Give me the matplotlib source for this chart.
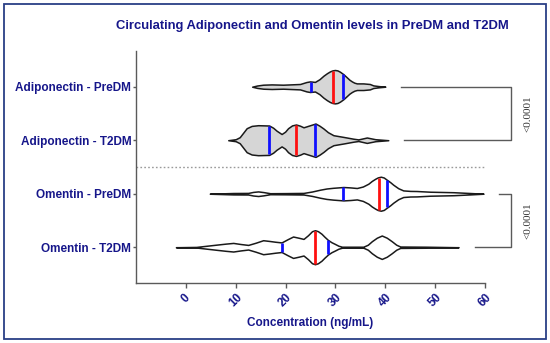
import matplotlib.pyplot as plt
import numpy as np
from matplotlib.patches import Rectangle

# ---------------------------------------------------------------------------
# Data
# ---------------------------------------------------------------------------

GROUPS = [
    "Adiponectin - PreDM",
    "Adiponectin - T2DM",
    "Omentin - PreDM",
    "Omentin - T2DM",
]

# violin outlines: concentration (ng/mL) and relative half-width
ADIPO_PRE_X = [13.3, 14.3, 15.5, 17.2, 19.5, 22.9, 24.2, 24.9, 25.9, 26.8,
               27.6, 28.3, 28.9, 29.4, 29.9, 30.4, 30.9, 31.6, 32.3, 32.8,
               33.3, 33.8, 34.3, 35.6, 36.9, 37.6, 38.7, 40.0]
ADIPO_PRE_W = [0.0, 1.2, 2.0, 2.3, 2.0, 2.7, 4.7, 5.3, 4.8, 7.5,
               11.0, 13.5, 15.3, 16.3, 16.7, 16.3, 15.0, 12.5, 9.3, 7.0,
               5.3, 4.0, 3.3, 3.3, 2.7, 1.3, 0.6, 0.0]

ADIPO_T2_X = [8.5, 10.0, 10.8, 11.5, 12.2, 13.2, 14.5, 16.7, 17.5, 18.2,
              19.2, 19.9, 20.5, 21.3, 22.1, 22.9, 23.6, 24.8, 26.0, 26.8,
              27.6, 28.5, 29.6, 31.6, 33.6, 34.6, 35.5, 36.3, 37.2, 38.0,
              40.6]
ADIPO_T2_W = [0.0, 1.0, 3.0, 7.5, 12.0, 14.3, 15.0, 14.7, 12.5, 9.5,
              6.2, 8.5, 12.0, 14.8, 15.7, 14.5, 12.9, 14.8, 16.7, 14.5,
              11.7, 8.0, 5.0, 3.3, 1.5, 0.8, 1.8, 2.7, 1.8, 1.0,
              0.0]

OMENT_PRE_X = [4.8, 9.5, 12.5, 13.5, 14.5, 15.6, 16.9, 20.0, 23.6, 25.3,
               26.9, 28.2, 29.5, 31.6, 33.0, 34.3, 35.5, 36.6, 37.3, 38.0,
               38.5, 39.1, 39.7, 40.3, 41.0, 41.6, 42.6, 43.6, 45.0, 46.3,
               49.0, 53.7, 57.0, 59.7]
OMENT_PRE_W = [0.0, 0.7, 0.8, 1.8, 2.3, 1.6, 0.5, 0.6, 0.8, 2.2,
               4.0, 5.2, 5.9, 6.7, 6.3, 5.7, 7.2, 10.0, 12.8, 15.0,
               16.3, 17.0, 16.2, 14.0, 11.5, 9.0, 5.5, 3.3, 2.8, 2.7,
               2.0, 1.5, 0.7, 0.0]

OMENT_T2_X = [-2.0, 2.1, 6.0, 8.0, 9.5, 11.0, 12.5, 14.0, 15.5, 16.7,
              17.9, 19.2, 20.4, 21.5, 22.6, 23.6, 24.5, 25.3, 25.9, 26.5,
              27.2, 27.8, 28.5, 29.2, 29.9, 30.6, 31.3, 35.6, 36.5, 37.3,
              38.3, 39.3, 40.3, 41.3, 42.2, 43.0, 48.3, 54.7]
OMENT_T2_W = [0.0, 0.3, 2.5, 3.6, 4.3, 3.2, 2.3, 4.5, 7.0, 6.3,
              5.5, 4.8, 8.0, 10.7, 9.5, 8.3, 12.0, 16.0, 17.0, 16.0,
              13.5, 10.5, 7.3, 5.0, 3.3, 1.5, 0.5, 0.5, 2.5, 6.0,
              9.5, 11.7, 9.5, 6.0, 2.5, 0.7, 0.5, 0.0]

PROFILES_X = [ADIPO_PRE_X, ADIPO_T2_X, OMENT_PRE_X, OMENT_T2_X]
PROFILES_W = [ADIPO_PRE_W, ADIPO_T2_W, OMENT_PRE_W, OMENT_T2_W]

Q1 = [25.2, 16.7, 31.6, 19.2]
MEDIAN = [29.6, 22.1, 38.8, 25.9]
Q3 = [31.5, 26.0, 40.3, 28.5]

FILLED = [True, True, False, False]

# comparisons (group index pairs) and their p-values
COMPARISONS = [(0, 1), (2, 3)]
P_LABELS = ["<0.0001", "<0.0001"]

X_TICKS = [0, 10, 20, 30, 40, 50, 60]

# ---------------------------------------------------------------------------
# Style
# ---------------------------------------------------------------------------

NAVY = "#16168a"
FRAME = "#2a3f86"
GREY = "#5a5a5a"
FILL = "#d6d6d6"
WIDTH_SCALE = 1 / 53.5   # relative width -> category units

plt.rcParams["font.family"] = ["Liberation Sans", "DejaVu Sans"]

fig = plt.figure(figsize=(5.5, 3.43), dpi=100)
fig.patch.set_facecolor("white")
ax = fig.add_axes([0.2473, 0.1758, 0.6345, 0.6764])

positions = np.arange(1, len(GROUPS) + 1)

for i, pos in enumerate(positions):
    xs = np.array(PROFILES_X[i])
    hw = np.array(PROFILES_W[i]) * WIDTH_SCALE
    ax.fill_between(
        xs, pos - hw, pos + hw,
        facecolor=FILL if FILLED[i] else "white",
        edgecolor="#1a1a1a", lw=1.1, joinstyle="round", zorder=3,
    )
    for q, col in [(Q1[i], "#1010ff"), (MEDIAN[i], "#ff1010"), (Q3[i], "#1010ff")]:
        h = np.interp(q, xs, hw) * 0.96
        ax.vlines(q, pos - h, pos + h, color=col, lw=2.0, zorder=4)

# separator between adiponectin and omentin
ax.axhline(2.5, color="#9a9a9a", lw=1.0, ls=(0, (1.2, 1.6)), zorder=1)

# significance brackets
x_vert = 65.3
for (a, b), label in zip(COMPARISONS, P_LABELS):
    xa = max(PROFILES_X[a]) + 3.2
    xb = max(PROFILES_X[b]) + 3.2
    ax.plot([xa, x_vert, x_vert, xb],
            [positions[a], positions[a], positions[b], positions[b]],
            color=GREY, lw=1.0, clip_on=False, zorder=2)
    ax.text(x_vert + 3.3, (positions[a] + positions[b]) / 2, label,
            rotation=90, ha="center", va="center", fontsize=8,
            family=["Liberation Serif", "DejaVu Serif"], color="#333333",
            clip_on=False)

ax.set_xlim(-10, 60)
ax.set_ylim(4.663, 0.327)
ax.set_xticks(X_TICKS)
ax.set_xticklabels([str(t) for t in X_TICKS], rotation=45, ha="center",
                   fontsize=8.5, fontweight="bold", color=NAVY)
ax.set_yticks(positions)
ax.set_yticklabels(GROUPS, fontsize=8.5, fontweight="bold", color=NAVY)
ax.tick_params(axis="x", length=3.5, width=1, color=GREY, pad=3)
ax.tick_params(axis="y", length=2.5, width=1, color=GREY, pad=1)

ax.set_xlabel("Concentration (ng/mL)", fontsize=8.5, fontweight="bold",
              color=NAVY, labelpad=5)

for side in ["top", "right"]:
    ax.spines[side].set_visible(False)
for side in ["left", "bottom"]:
    ax.spines[side].set_color(GREY)
    ax.spines[side].set_linewidth(1.0)

fig.text(0.5686, 0.925, "Circulating Adiponectin and Omentin levels in PreDM and T2DM",
         ha="center", va="center", fontsize=9.4, fontweight="bold", color=NAVY)

# outer frame
fig.patches.append(Rectangle((4 / 550, 4 / 343), 542 / 550, 335 / 343,
                             transform=fig.transFigure, fill=False,
                             edgecolor=FRAME, lw=1.3))

fig.savefig("out.png", dpi=100, facecolor="white")
plt.close(fig)
